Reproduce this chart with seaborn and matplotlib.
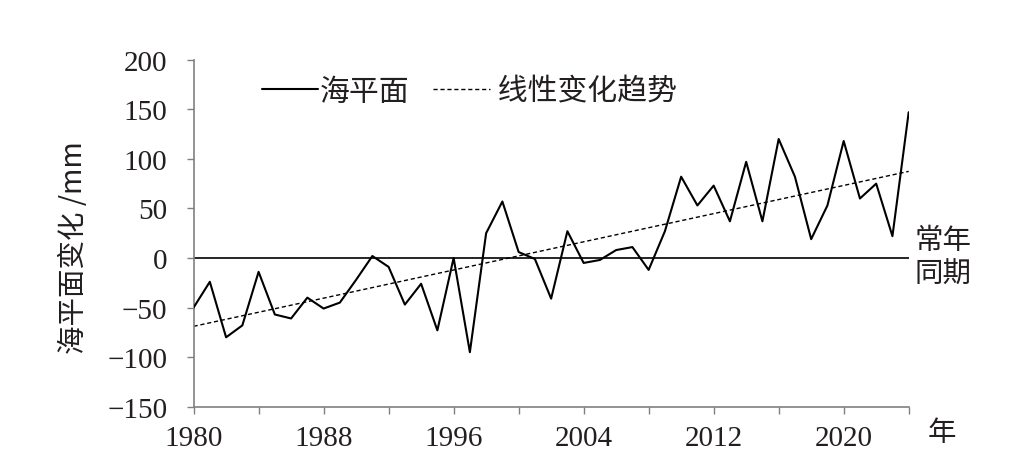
import numpy as np
import pandas as pd
import matplotlib
matplotlib.use("Agg")
import matplotlib.pyplot as plt
import seaborn as sns

# ---------- DATA ----------
years = list(range(1980, 2025))
sea_level = [-50, -24, -80, -68, -14, -57, -61, -40, -51, -45,
             -22, 2, -9, -47, -26, -73, 0, -95, 25, 57,
             6, -1, -41, 27, -5, -2, 8, 11, -12, 27,
             82, 53, 73, 37, 97, 37, 120, 82, 19, 53,
             118, 60, 75, 22, 147]
y_ticks = [-150, -100, -50, 0, 50, 100, 150, 200]
x_labels = [1980, 1988, 1996, 2004, 2012, 2020]

df = pd.DataFrame({"year": years, "level": sea_level})

# ---------- STYLE ----------
sns.set_style("ticks")
plt.rcParams["font.family"] = ["Liberation Serif", "Noto Sans CJK SC"]
cjk = ["Noto Sans CJK SC", "Liberation Serif"]
ink = "#231f20"

fig = plt.figure(figsize=(10.21, 4.77), dpi=100)
ax = fig.add_axes([0.1896, 0.1453, 0.7004, 0.7274])

# ---------- PLOT ----------
ax.axhline(0, color="black", lw=1.2, zorder=1)
sns.lineplot(data=df, x="year", y="level", color="black", lw=1.5,
             ax=ax, label="海平面", zorder=3)
sns.regplot(data=df, x="year", y="level", scatter=False, ci=None,
            truncate=True, ax=ax, label=" 线性变化趋势",
            line_kws=dict(color="black", lw=1.0, ls=(0, (3, 2))))

ax.set_xlim(1980, 2024)
ax.set_ylim(-150, 200)
ax.set_yticks(y_ticks)
ax.set_xticks(x_labels)
ax.set_xticks(range(1980, 2025, 4), minor=True)
ax.tick_params(axis="both", which="both", direction="out", length=5,
               width=1, color="#808080", labelsize=21, labelcolor=ink)
ax.tick_params(axis="y", pad=14)
ax.tick_params(axis="x", pad=8)
ax.set_xlabel("")
ax.set_ylabel("")
for s in ["top", "right"]:
    ax.spines[s].set_visible(False)
for s in ["left", "bottom"]:
    ax.spines[s].set_color("#808080")
    ax.spines[s].set_linewidth(1.2)

leg = ax.legend(loc="center left", bbox_to_anchor=(0.095, 0.91), ncol=2,
                frameon=False, handlelength=1.9, handletextpad=0.05,
                columnspacing=0.8, borderpad=0, borderaxespad=0,
                prop=dict(family=cjk, size=21.5))
for t in leg.get_texts():
    t.set_color(ink)

# y label and side notes
fig.text(74 / 1021, 1 - 248 / 477, "海平面变化 /mm", rotation=90,
         ha="center", va="center", fontsize=20.5, color=ink,
         family=cjk)
fig.text(943 / 1021, 1 - 258 / 477, "常年\n同期", ha="center", va="center",
         fontsize=20.5, color=ink, family=cjk, linespacing=1.15)
fig.text(942 / 1021, 1 - 433 / 477, "年", ha="center", va="center",
         fontsize=20.5, color=ink, family=cjk)

fig.savefig("out.png", dpi=100)
